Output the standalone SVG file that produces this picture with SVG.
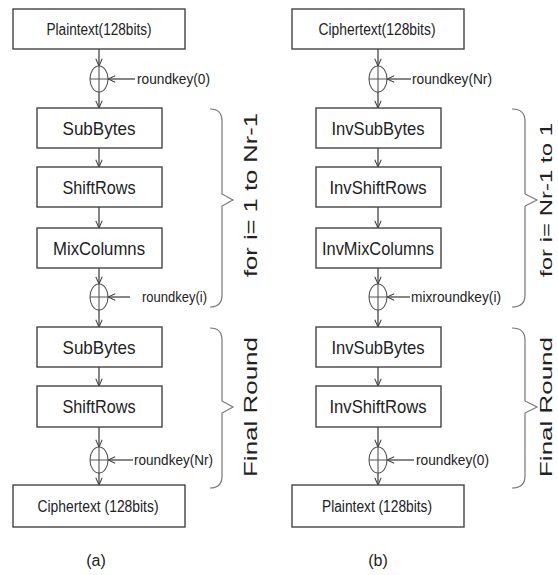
<svg xmlns="http://www.w3.org/2000/svg" width="558" height="575" viewBox="0 0 558 575">
<defs>
<style>
.box{fill:#fff;stroke:#444;stroke-width:1.4}
.t{font-family:"Liberation Sans",Arial,sans-serif;fill:#222;text-anchor:middle}
.bt{font-size:19px}
.ht{font-size:16px}
.kt{font-family:"Liberation Sans",Arial,sans-serif;fill:#222;font-size:15px}
.rt{font-family:"Liberation Sans",Arial,sans-serif;fill:#222;font-size:18px;text-anchor:middle}
.rs{font-size:17px}
.xo{fill:none;stroke:#555;stroke-width:1.1}
.c{fill:none;stroke:#444;stroke-width:1.3}
.br{fill:none;stroke:#777;stroke-width:1.2}
</style>
<marker id="ah" viewBox="0 0 10 10" refX="10" refY="5" markerWidth="8" markerHeight="8" orient="auto" markerUnits="userSpaceOnUse">
<path d="M1,1 L10,5 L1,9" fill="none" stroke="#444" stroke-width="1.3"/>
</marker>
</defs>

<!-- Left column (a) -->
<g id="a-plaintext"><rect class="box" x="13" y="9" width="172" height="40"/><text class="t ht" x="99" y="35" textLength="105" lengthAdjust="spacingAndGlyphs">Plaintext(128bits)</text></g>
<g id="a-xor1"><ellipse class="xo" cx="99" cy="79" rx="9" ry="13"/><path class="xo" d="M90,79 H108 M99,66 V92"/></g>
<g id="a-key0"><text class="kt" x="137" y="84" textLength="73" lengthAdjust="spacingAndGlyphs">roundkey(0)</text></g>
<g id="a-subbytes1"><rect class="box" x="37" y="108" width="125" height="40"/><text class="t bt" x="99" y="135" textLength="73" lengthAdjust="spacingAndGlyphs">SubBytes</text></g>
<g id="a-shiftrows1"><rect class="box" x="37" y="167" width="125" height="40"/><text class="t bt" x="99" y="194" textLength="73" lengthAdjust="spacingAndGlyphs">ShiftRows</text></g>
<g id="a-mixcolumns"><rect class="box" x="37" y="228" width="125" height="40"/><text class="t bt" x="99" y="255" textLength="92" lengthAdjust="spacingAndGlyphs">MixColumns</text></g>
<g id="a-xor2"><ellipse class="xo" cx="99" cy="297" rx="9" ry="13"/><path class="xo" d="M90,297 H108 M99,284 V310"/></g>
<g id="a-keyi"><text class="kt" x="142" y="302" textLength="65" lengthAdjust="spacingAndGlyphs">roundkey(i)</text></g>
<g id="a-subbytes2"><rect class="box" x="37" y="327" width="125" height="40"/><text class="t bt" x="99" y="354" textLength="73" lengthAdjust="spacingAndGlyphs">SubBytes</text></g>
<g id="a-shiftrows2"><rect class="box" x="37" y="386" width="125" height="41"/><text class="t bt" x="99" y="413" textLength="73" lengthAdjust="spacingAndGlyphs">ShiftRows</text></g>
<g id="a-xor3"><ellipse class="xo" cx="99" cy="460" rx="9" ry="13"/><path class="xo" d="M90,460 H108 M99,447 V473"/></g>
<g id="a-keynr"><text class="kt" x="134" y="465" textLength="79" lengthAdjust="spacingAndGlyphs">roundkey(Nr)</text></g>
<g id="a-ciphertext"><rect class="box" x="13" y="485" width="172" height="42"/><text class="t ht" x="98" y="512" textLength="121" lengthAdjust="spacingAndGlyphs">Ciphertext (128bits)</text></g>
<g id="a-caption"><text class="t ht" x="96" y="566">(a)</text></g>
<g id="a-brace-loop"><path class="br" d="M210,109 C218,109 222,113 222,121 L222,194 L233,200 L222,206 L222,295 C222,303 218,307 210,307"/><text class="rt" transform="translate(257,195) rotate(-90)" textLength="164" lengthAdjust="spacingAndGlyphs">for i= 1 to Nr-1</text></g>
<g id="a-brace-final"><path class="br" d="M210,328 C218,328 222,332 222,340 L222,401 L233,407 L222,413 L222,476 C222,484 218,488 210,488"/><text class="rt" transform="translate(257,407) rotate(-90)" textLength="140" lengthAdjust="spacingAndGlyphs">Final Round</text></g>

<!-- Right column (b) -->
<g id="b-ciphertext"><rect class="box" x="292" y="9" width="172" height="40"/><text class="t ht" x="377" y="35" textLength="117" lengthAdjust="spacingAndGlyphs">Ciphertext(128bits)</text></g>
<g id="b-xor1"><ellipse class="xo" cx="378" cy="79" rx="9" ry="13"/><path class="xo" d="M369,79 H387 M378,66 V92"/></g>
<g id="b-keynr"><text class="kt" x="412" y="84" textLength="80" lengthAdjust="spacingAndGlyphs">roundkey(Nr)</text></g>
<g id="b-invsubbytes1"><rect class="box" x="316" y="108" width="125" height="40"/><text class="t bt" x="378" y="135" textLength="93" lengthAdjust="spacingAndGlyphs">InvSubBytes</text></g>
<g id="b-invshiftrows1"><rect class="box" x="316" y="167" width="125" height="40"/><text class="t bt" x="378" y="194" textLength="97" lengthAdjust="spacingAndGlyphs">InvShiftRows</text></g>
<g id="b-invmixcolumns"><rect class="box" x="316" y="228" width="125" height="40"/><text class="t bt" x="378" y="255" textLength="112" lengthAdjust="spacingAndGlyphs">InvMixColumns</text></g>
<g id="b-xor2"><ellipse class="xo" cx="378" cy="297" rx="9" ry="13"/><path class="xo" d="M369,297 H387 M378,284 V310"/></g>
<g id="b-keyi"><text class="kt" x="411" y="302" textLength="90" lengthAdjust="spacingAndGlyphs">mixroundkey(i)</text></g>
<g id="b-invsubbytes2"><rect class="box" x="316" y="327" width="125" height="40"/><text class="t bt" x="378" y="354" textLength="93" lengthAdjust="spacingAndGlyphs">InvSubBytes</text></g>
<g id="b-invshiftrows2"><rect class="box" x="316" y="386" width="125" height="41"/><text class="t bt" x="378" y="413" textLength="97" lengthAdjust="spacingAndGlyphs">InvShiftRows</text></g>
<g id="b-xor3"><ellipse class="xo" cx="378" cy="460" rx="9" ry="13"/><path class="xo" d="M369,460 H387 M378,447 V473"/></g>
<g id="b-key0"><text class="kt" x="416" y="465" textLength="73" lengthAdjust="spacingAndGlyphs">roundkey(0)</text></g>
<g id="b-plaintext"><rect class="box" x="292" y="485" width="172" height="42"/><text class="t ht" x="377" y="512" textLength="110" lengthAdjust="spacingAndGlyphs">Plaintext (128bits)</text></g>
<g id="b-caption"><text class="t ht" x="378" y="566">(b)</text></g>
<g id="b-brace-loop"><path class="br" d="M512,109 C520,109 525,113 525,121 L525,194 L537,200 L525,206 L525,295 C525,303 520,307 512,307"/><text class="rt rs" transform="translate(552,200) rotate(-90)" textLength="154" lengthAdjust="spacingAndGlyphs">for i= Nr-1 to 1</text></g>
<g id="b-brace-final"><path class="br" d="M512,328 C520,328 525,332 525,340 L525,401 L537,407 L525,413 L525,476 C525,484 520,488 512,488"/><text class="rt rs" transform="translate(552,407) rotate(-90)" textLength="140" lengthAdjust="spacingAndGlyphs">Final Round</text></g>

<!-- Connectors -->
<g id="connectors">
<path class="c" marker-end="url(#ah)" d="M99,49 V66"/>
<path class="c" marker-end="url(#ah)" d="M99,92 V108"/>
<path class="c" marker-end="url(#ah)" d="M135,79 H108"/>
<path class="c" marker-end="url(#ah)" d="M99,148 V167"/>
<path class="c" marker-end="url(#ah)" d="M99,207 V228"/>
<path class="c" marker-end="url(#ah)" d="M99,268 V284"/>
<path class="c" marker-end="url(#ah)" d="M99,310 V327"/>
<path class="c" marker-end="url(#ah)" d="M130,297 H108"/>
<path class="c" marker-end="url(#ah)" d="M99,367 V386"/>
<path class="c" marker-end="url(#ah)" d="M99,427 V447"/>
<path class="c" marker-end="url(#ah)" d="M99,473 V485"/>
<path class="c" marker-end="url(#ah)" d="M133,460 H108"/>

<path class="c" marker-end="url(#ah)" d="M378,49 V66"/>
<path class="c" marker-end="url(#ah)" d="M378,92 V108"/>
<path class="c" marker-end="url(#ah)" d="M411,79 H387"/>
<path class="c" marker-end="url(#ah)" d="M378,148 V167"/>
<path class="c" marker-end="url(#ah)" d="M378,207 V228"/>
<path class="c" marker-end="url(#ah)" d="M378,268 V284"/>
<path class="c" marker-end="url(#ah)" d="M378,310 V327"/>
<path class="c" marker-end="url(#ah)" d="M410,297 H387"/>
<path class="c" marker-end="url(#ah)" d="M378,367 V386"/>
<path class="c" marker-end="url(#ah)" d="M378,427 V447"/>
<path class="c" marker-end="url(#ah)" d="M378,473 V485"/>
<path class="c" marker-end="url(#ah)" d="M414,460 H387"/>
</g>
</svg>
